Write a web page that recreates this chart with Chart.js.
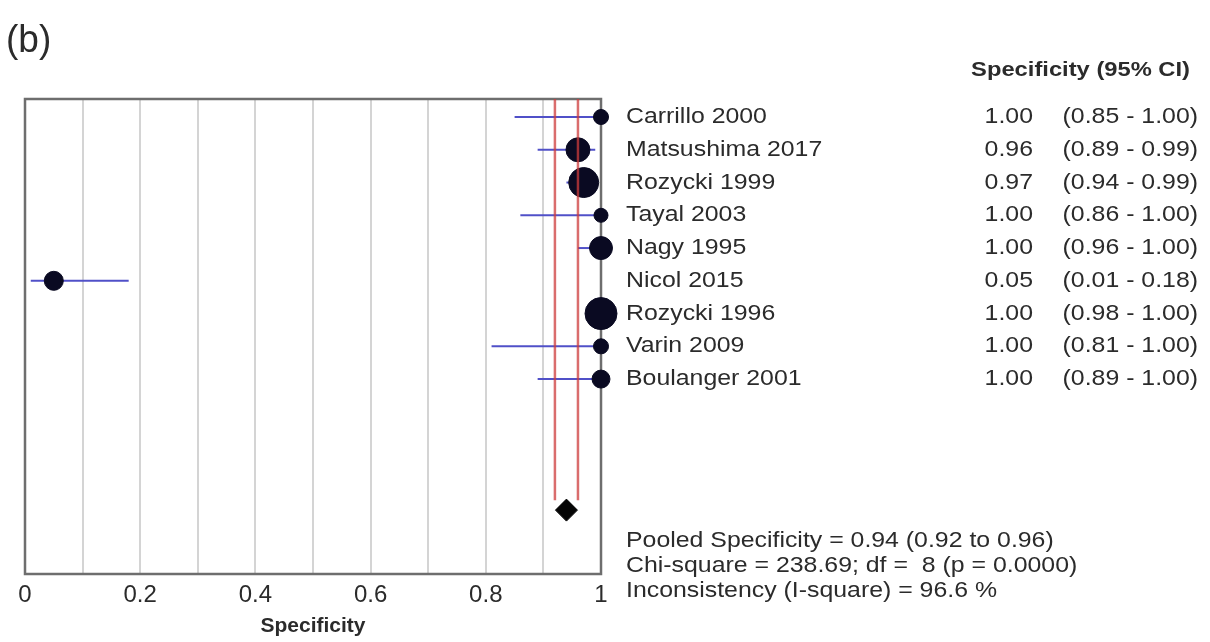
<!DOCTYPE html>
<html>
<head>
<meta charset="utf-8">
<script src="https://cdn.jsdelivr.net/npm/chart.js@4.4.1/dist/chart.umd.min.js"></script>
<style>
  html, body { margin: 0; padding: 0; background: #fff; }
  #wrap { width: 1210px; height: 642px; }
</style>
</head>
<body>
<div id="wrap"><canvas id="forest" width="1210" height="642"></canvas></div>
<script>
const studies = ['Carrillo 2000', 'Matsushima 2017', 'Rozycki 1999', 'Tayal 2003', 'Nagy 1995',
                 'Nicol 2015', 'Rozycki 1996', 'Varin 2009', 'Boulanger 2001'];
const specificity = [1.00, 0.96, 0.97, 1.00, 1.00, 0.05, 1.00, 1.00, 1.00];
const ciLow  = [0.85, 0.89, 0.94, 0.86, 0.96, 0.01, 0.98, 0.81, 0.89];
const ciHigh = [1.00, 0.99, 0.99, 1.00, 1.00, 0.18, 1.00, 1.00, 1.00];
const studyWeights = [5.2, 13.2, 20.7, 4.5, 12.1, 8.3, 23.5, 5.2, 7.4]; // % weight, sets marker size
const pooled = 0.94;
const pooledLow = 0.92;
const pooledHigh = 0.96;
const chiSquare = 238.69;
const df = 8;
const pValue = '0.0000';
const iSquare = 96.6;
const xTickLabels = ['0', '0.2', '0.4', '0.6', '0.8', '1'];

const pooledRow = 12;
const yMin = -0.55, yMax = 13.95;
const TEXT = '#2b2b2b';
const FONT = '"Liberation Sans", Arial, sans-serif';
const SX = 1.13; // the source picture is a bit stretched sideways

const datasets = [];

// pooled diamond
datasets.push({
  type: 'scatter',
  data: [{ x: pooled, y: pooledRow }],
  pointStyle: 'rectRot',
  pointRadius: 11,
  backgroundColor: '#050505',
  borderColor: '#050505',
  clip: false
});

// pooled CI lines (red)
[pooledLow, pooledHigh].forEach(v => {
  datasets.push({
    type: 'line',
    data: [{ x: v, y: yMin }, { x: v, y: pooledRow - 0.3 }],
    borderColor: 'rgba(205,60,60,0.75)',
    borderWidth: 2.5,
    pointRadius: 0,
    clip: false
  });
});

// study estimates
datasets.push({
  type: 'scatter',
  data: specificity.map((v, i) => ({ x: v, y: i })),
  pointRadius: studyWeights.map(w => 3.3 * Math.sqrt(w)),
  backgroundColor: '#0a0a22',
  borderColor: '#0a0a22',
  clip: false
});

// study CI whiskers
studies.forEach((s, i) => {
  datasets.push({
    type: 'line',
    data: [{ x: ciLow[i], y: i }, { x: ciHigh[i], y: i }],
    borderColor: '#5050c8',
    borderWidth: 2,
    pointRadius: 0,
    clip: false
  });
});

function drawText(ctx, text, x, y, align, font, sx = SX) {
  ctx.save();
  ctx.font = font;
  ctx.fillStyle = TEXT;
  ctx.textAlign = align;
  ctx.textBaseline = 'middle';
  ctx.translate(x, y);
  ctx.scale(sx, 1);
  ctx.fillText(text, 0, 0);
  ctx.restore();
}

const textPlugin = {
  id: 'forestText',
  beforeDatasetsDraw(chart) {
    const { ctx, chartArea: a } = chart;
    ctx.save();
    ctx.strokeStyle = '#6e6e6e';
    ctx.lineWidth = 2.5;
    ctx.strokeRect(a.left, a.top, a.right - a.left, a.bottom - a.top);
    ctx.restore();
  },
  afterDraw(chart) {
    const { ctx } = chart;
    const y = chart.scales.y;
    const body = '22px ' + FONT;

    drawText(ctx, '(b)', 6, 41, 'left', '39px ' + FONT, 0.95);
    drawText(ctx, 'Specificity (95% CI)', 1190, 70, 'right', 'bold 21px ' + FONT);

    studies.forEach((s, i) => {
      const py = y.getPixelForValue(i);
      drawText(ctx, s, 626, py, 'left', body);
      drawText(ctx, specificity[i].toFixed(2), 1033, py, 'right', body);
      drawText(ctx, '(' + ciLow[i].toFixed(2) + ' - ' + ciHigh[i].toFixed(2) + ')', 1198, py, 'right', body);
    });

    const stats = [
      'Pooled Specificity = ' + pooled.toFixed(2) + ' (' + pooledLow.toFixed(2) + ' to ' + pooledHigh.toFixed(2) + ')',
      'Chi-square = ' + chiSquare.toFixed(2) + '; df =  ' + df + ' (p = ' + pValue + ')',
      'Inconsistency (I-square) = ' + iSquare.toFixed(1) + ' %'
    ];
    stats.forEach((t, k) => drawText(ctx, t, 626, 541 + k * 25, 'left', body));
  }
};

new Chart(document.getElementById('forest'), {
  data: { datasets },
  options: {
    responsive: false,
    animation: false,
    layout: { padding: { left: 25, right: 609, top: 99, bottom: 0 } },
    plugins: { legend: { display: false }, tooltip: { enabled: false } },
    scales: {
      x: {
        type: 'linear',
        min: 0,
        max: 1,
        afterFit: s => { s.height = 68; },
        border: { display: false },
        grid: { color: '#d4d4d4', lineWidth: 2, drawTicks: false },
        ticks: {
          stepSize: 0.1,
          padding: 7,
          maxRotation: 0,
          autoSkip: false,
          color: TEXT,
          font: { family: FONT, size: 24 },
          callback: (v, i) => (i % 2 === 0 ? xTickLabels[i / 2] : '')
        },
        title: {
          display: true,
          text: 'Specificity',
          color: TEXT,
          font: { family: FONT, size: 21, weight: 'bold' },
          padding: { top: 0, bottom: 3 }
        }
      },
      y: {
        type: 'linear',
        display: false,
        reverse: true,
        min: yMin,
        max: yMax
      }
    }
  },
  plugins: [textPlugin]
});
</script>
</body>
</html>
